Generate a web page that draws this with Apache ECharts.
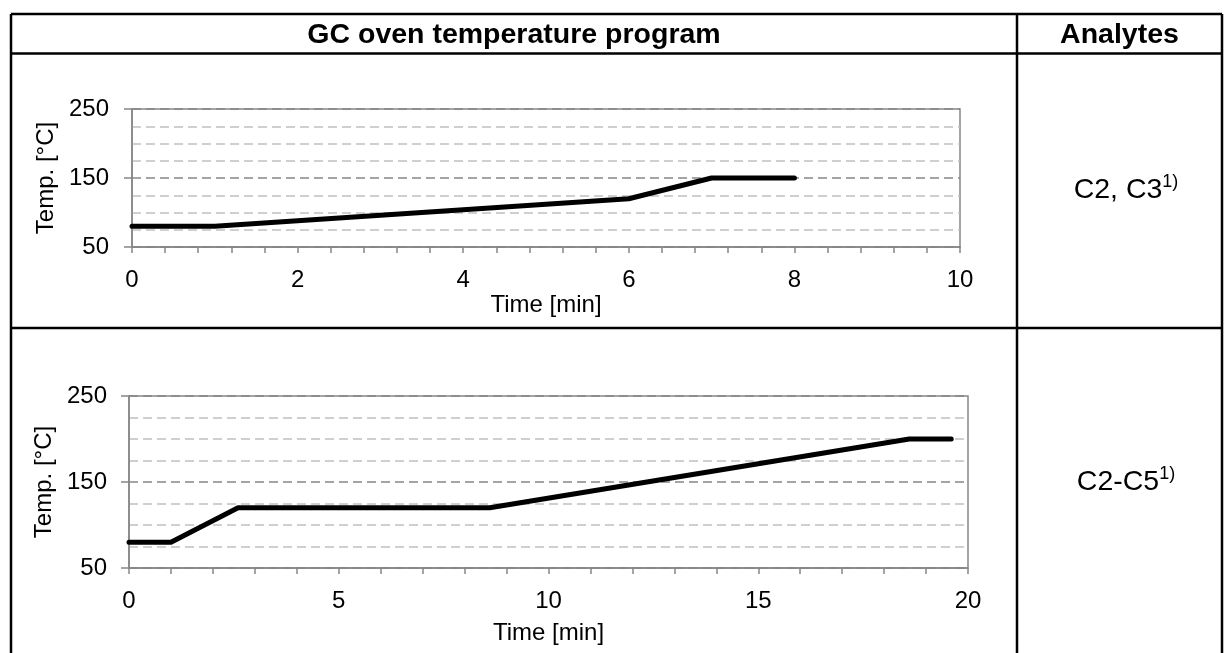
<!DOCTYPE html>
<html>
<head>
<meta charset="utf-8">
<script src="https://cdn.jsdelivr.net/npm/echarts@6/dist/echarts.min.js"></script>
<style>
html,body{margin:0;padding:0;background:#fff;}
#chart{width:1224px;height:653px;}
</style>
</head>
<body>
<div id="chart"></div>
<script>
// ---- data ----
var headerTitles = ['GC oven temperature program', 'Analytes'];
var analytes = ['C2, C3', 'C2-C5'];
var footnote = '1)';
var axisNames = { x: 'Time [min]', y: 'Temp. [°C]' };

var topTime = [0, 1, 6, 7, 8];
var topTemp = [80, 80, 120, 150, 150];
var bottomTime = [0, 1, 2.6, 8.6, 18.6, 19.6];
var bottomTemp = [80, 80, 120, 120, 200, 200];

var yTicks = [50, 150, 250];
var topXTicks = [0, 2, 4, 6, 8, 10];
var bottomXTicks = [0, 5, 10, 15, 20];

function pairs(xs, ys) { return xs.map(function (x, i) { return [x, ys[i]]; }); }

var FONT = '"Liberation Sans", Arial, sans-serif';
var AX = '#868686';
var MINOR = '#c0c0c0';
var FS = 24;     // chart text
var TFS = 28.5;  // table text

function xAxis(idx, ticks, nameGap) {
  return {
    type: 'value', gridIndex: idx,
    min: ticks[0], max: ticks[ticks.length - 1], interval: ticks[1] - ticks[0],
    name: axisNames.x, nameLocation: 'middle', nameGap: nameGap,
    nameTextStyle: { fontFamily: FONT, fontSize: FS, color: '#000' },
    axisLine: { show: true, lineStyle: { color: AX, width: 1.5 } },
    axisTick: { show: true, inside: false, length: 6, lineStyle: { color: AX, width: 1.5 } },
    minorTick: { show: true, splitNumber: 5, length: 6, lineStyle: { color: AX, width: 1.5 } },
    axisLabel: { fontFamily: FONT, fontSize: FS, color: '#000', margin: 21 },
    splitLine: { show: false }
  };
}
function yAxis(idx, nameGap, margin) {
  return {
    type: 'value', gridIndex: idx,
    min: yTicks[0], max: yTicks[yTicks.length - 1], interval: yTicks[1] - yTicks[0],
    name: axisNames.y, nameLocation: 'middle', nameGap: nameGap,
    nameTextStyle: { fontFamily: FONT, fontSize: FS, color: '#000' },
    axisLine: { show: true, lineStyle: { color: AX, width: 1.5 } },
    axisTick: { show: true, inside: false, length: 8, lineStyle: { color: AX, width: 1.5 } },
    minorTick: { show: false, splitNumber: 4 },
    axisLabel: { fontFamily: FONT, fontSize: FS, color: '#000', margin: margin },
    splitLine: { show: true, lineStyle: { color: AX, width: 1.5, type: [9, 5] } },
    minorSplitLine: { show: true, lineStyle: { color: MINOR, width: 1.5, type: [9, 5] } }
  };
}

var chart = echarts.init(document.getElementById('chart'), null, { renderer: 'canvas' });

var L = 11, R = 1222, T = 14, H1 = 53.5, ROW = 328, COL = 1017, B = 660;
function line(x1, y1, x2, y2) {
  return { type: 'line', shape: { x1: x1, y1: y1, x2: x2, y2: y2 }, style: { stroke: '#000', lineWidth: 2.5 }, z: 10 };
}
function rich(main, x, y) {
  return {
    type: 'text', x: x, y: y, z: 10,
    style: {
      text: '{m|' + main + '}{s|' + footnote + '}',
      align: 'center', verticalAlign: 'middle',
      rich: {
        m: { fontFamily: FONT, fontSize: TFS, fill: '#000' },
        s: { fontFamily: FONT, fontSize: 18, fill: '#000', verticalAlign: 'top', padding: [0, 0, 16, 0] }
      }
    }
  };
}

chart.setOption({
  animation: false,
  grid: [
    { left: 132, top: 109, width: 828, height: 138, show: true, borderColor: AX, borderWidth: 1.5 },
    { left: 129, top: 396, width: 839, height: 172, show: true, borderColor: AX, borderWidth: 1.5 }
  ],
  xAxis: [xAxis(0, topXTicks, 46), xAxis(1, bottomXTicks, 53)],
  yAxis: [yAxis(0, 68, 23), yAxis(1, 64, 22)],
  series: [
    { type: 'line', xAxisIndex: 0, yAxisIndex: 0, data: pairs(topTime, topTemp), showSymbol: false, symbol: 'none',
      lineStyle: { color: '#000', width: 5, cap: 'round', join: 'round' }, z: 5 },
    { type: 'line', xAxisIndex: 1, yAxisIndex: 1, data: pairs(bottomTime, bottomTemp), showSymbol: false, symbol: 'none',
      lineStyle: { color: '#000', width: 5, cap: 'round', join: 'round' }, z: 5 }
  ],
  graphic: [
    line(L, T, R, T), line(L, H1, R, H1), line(L, ROW, R, ROW),
    line(L, T, L, B), line(R, T, R, B), line(COL, T, COL, B),
    { type: 'text', x: (L + COL) / 2, y: (T + H1) / 2 + 1, z: 10,
      style: { text: headerTitles[0], align: 'center', verticalAlign: 'middle', fontFamily: FONT, fontSize: TFS, fontWeight: 'bold', fill: '#000' } },
    { type: 'text', x: (COL + R) / 2, y: (T + H1) / 2 + 1, z: 10,
      style: { text: headerTitles[1], align: 'center', verticalAlign: 'middle', fontFamily: FONT, fontSize: TFS, fontWeight: 'bold', fill: '#000' } },
    rich(analytes[0], 1126, 190),
    rich(analytes[1], 1126, 482)
  ]
});
</script>
</body>
</html>
